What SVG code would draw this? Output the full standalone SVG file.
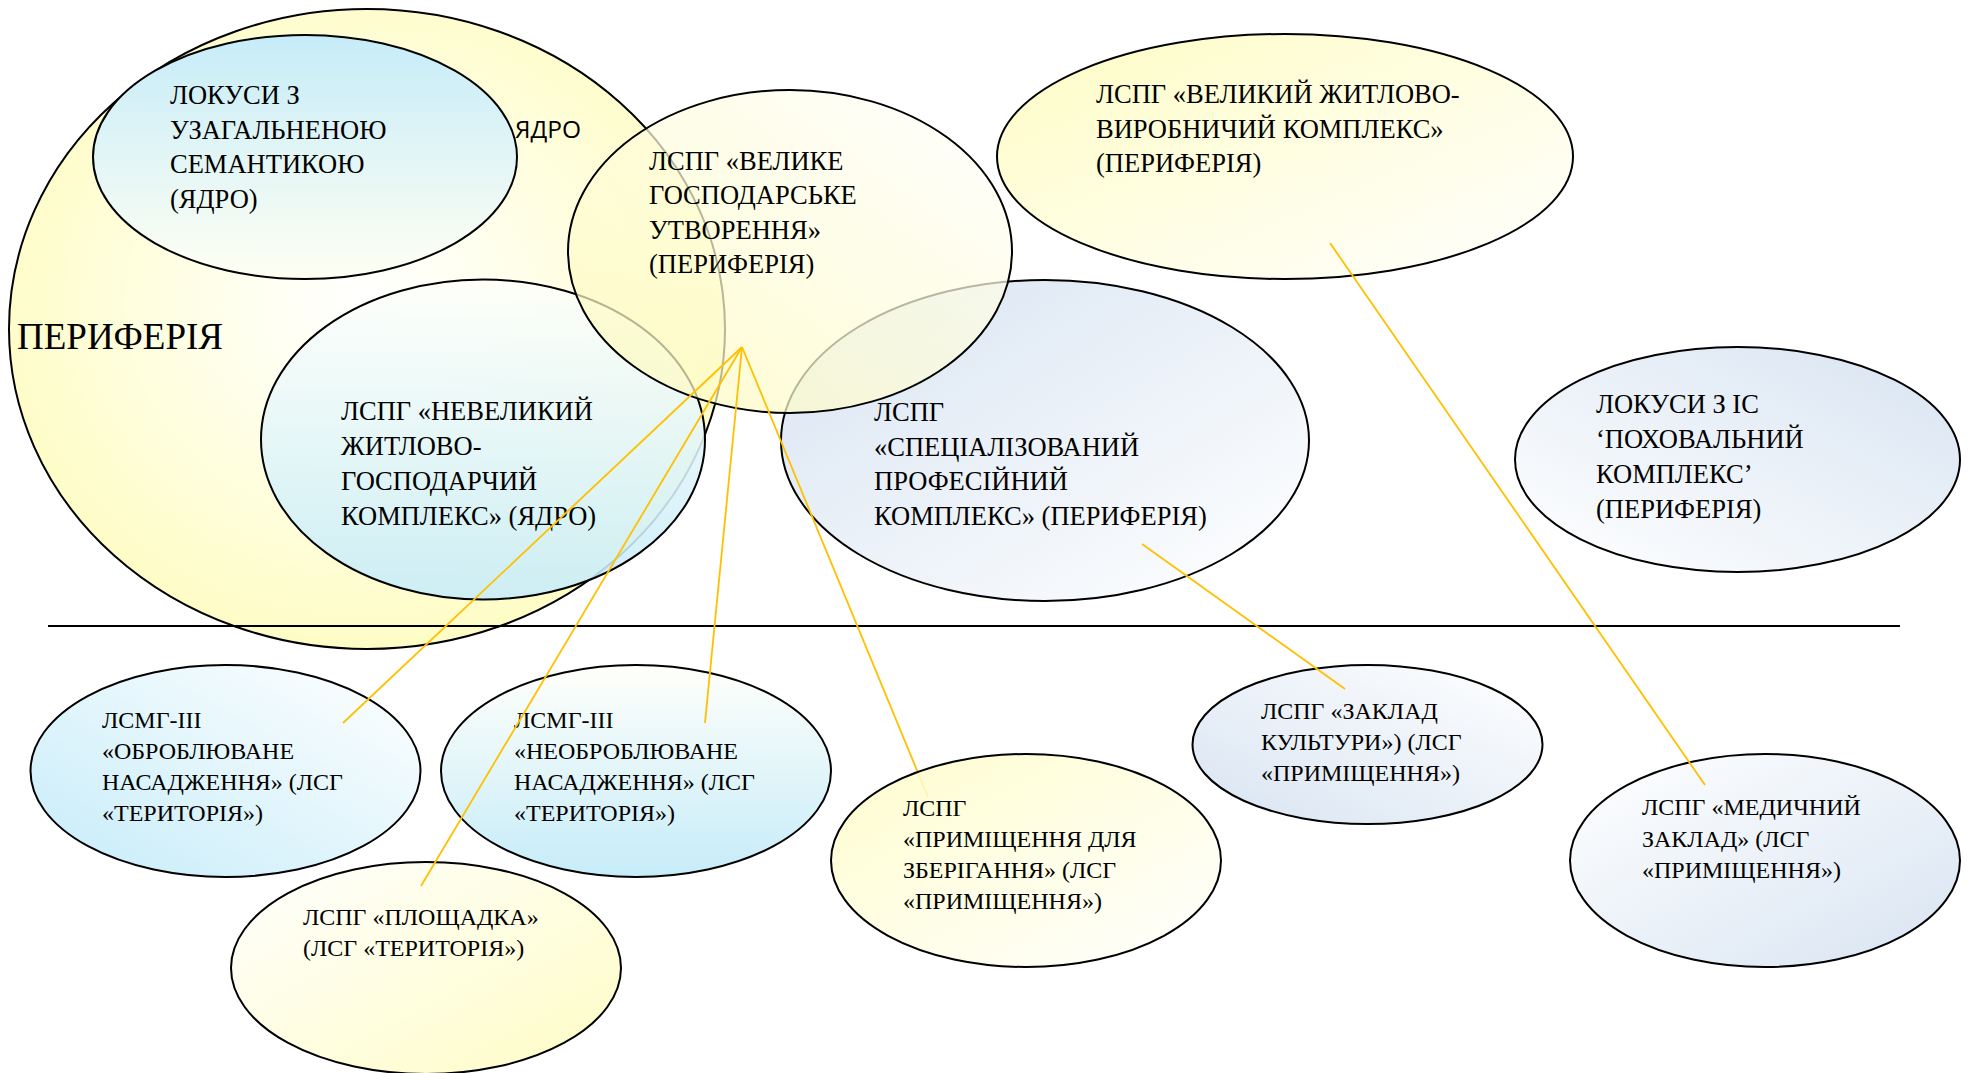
<svg xmlns="http://www.w3.org/2000/svg" width="1970" height="1073" viewBox="0 0 1970 1073">
  <style>
    .shape { stroke: #000; stroke-width: 2; }
    .t { font-family: "Liberation Serif", "Times New Roman", serif; fill: #000; }
    .lg { font-size: 26.5px; }
    .sm { font-size: 24px; }
    .sans { font-family: "Open Sans", "Liberation Sans", Arial, sans-serif; font-size: 24.5px; fill: #000; }
    .conn line { stroke: #FFC000; stroke-width: 1.8; fill: none; }
  </style>
  <defs>
    <radialGradient id="gPeriphery" cx="0.5" cy="0.46" r="0.55">
      <stop offset="0" stop-color="#FFFFFF"/>
      <stop offset="0.3" stop-color="#FFFFF0"/>
      <stop offset="1" stop-color="#FEFCC4"/>
    </radialGradient>
    <!-- blue top, pale bottom -->
    <linearGradient id="gBlueDown" x1="0" y1="0" x2="0" y2="1">
      <stop offset="0" stop-color="#C6ECF9"/>
      <stop offset="1" stop-color="#FFFFF2"/>
    </linearGradient>
    <!-- pale top, blue bottom -->
    <linearGradient id="gBlueUp" x1="0" y1="0" x2="0" y2="1">
      <stop offset="0" stop-color="#FFFFFA"/>
      <stop offset="1" stop-color="#C6ECF9"/>
    </linearGradient>
    <!-- blue bottom-left, white top-right -->
    <linearGradient id="gBlueBL" x1="0" y1="1" x2="1" y2="0">
      <stop offset="0" stop-color="#C6ECF9"/>
      <stop offset="1" stop-color="#FFFFFF"/>
    </linearGradient>
    <!-- yellow bottom-left, white top-right -->
    <linearGradient id="gYellowBL" x1="0" y1="1" x2="1" y2="0">
      <stop offset="0" stop-color="#FDFAB8"/>
      <stop offset="1" stop-color="#FFFFFF"/>
    </linearGradient>
    <!-- yellow top-left, white bottom-right -->
    <linearGradient id="gYellowTL" x1="0" y1="0" x2="1" y2="1">
      <stop offset="0" stop-color="#FEFCC4"/>
      <stop offset="1" stop-color="#FFFFFF"/>
    </linearGradient>
    <!-- white top-left, yellow bottom-right -->
    <linearGradient id="gYellowBR" x1="0" y1="0" x2="1" y2="1">
      <stop offset="0" stop-color="#FFFFFF"/>
      <stop offset="1" stop-color="#FEFCC4"/>
    </linearGradient>
    <!-- grey-blue top-left, white bottom-right -->
    <linearGradient id="gSteelTL" x1="0" y1="0" x2="1" y2="1">
      <stop offset="0" stop-color="#D8E4F2"/>
      <stop offset="1" stop-color="#FFFFFF"/>
    </linearGradient>
    <!-- grey-blue top-right, white bottom-left -->
    <linearGradient id="gSteelTR" x1="1" y1="0" x2="0" y2="1">
      <stop offset="0" stop-color="#D8E4F2"/>
      <stop offset="1" stop-color="#FFFFFF"/>
    </linearGradient>
    <!-- grey-blue bottom-left, white top-right -->
    <linearGradient id="gSteelBL" x1="0" y1="1" x2="1" y2="0">
      <stop offset="0" stop-color="#D8E4F2"/>
      <stop offset="1" stop-color="#FFFFFF"/>
    </linearGradient>
    <!-- white top-left, grey-blue bottom-right -->
    <linearGradient id="gSteelBR" x1="0" y1="0" x2="1" y2="1">
      <stop offset="0" stop-color="#FFFFFF"/>
      <stop offset="1" stop-color="#D8E4F2"/>
    </linearGradient>
  </defs>

  <rect width="1970" height="1073" fill="#FFFFFF"/>

  <!-- outer periphery field -->
  <g id="periphery">
    <ellipse class="shape" cx="367" cy="329" rx="358" ry="320" fill="url(#gPeriphery)"/>
    <text class="t" x="17" y="349" font-size="37">ПЕРИФЕРІЯ</text>
    <text class="sans" x="515" y="138">ЯДРО</text>
  </g>

  <g id="loci-general">
    <ellipse class="shape" cx="305" cy="157" rx="212" ry="122" fill="url(#gBlueDown)"/>
    <text class="t lg"><tspan x="170" y="104">ЛОКУСИ З</tspan><tspan x="170" y="138.5">УЗАГАЛЬНЕНОЮ</tspan><tspan x="170" y="173">СЕМАНТИКОЮ</tspan><tspan x="170" y="207.5">(ЯДРО)</tspan></text>
  </g>

  <g id="small-household">
    <ellipse class="shape" cx="483" cy="439.5" rx="222" ry="160" fill="url(#gBlueUp)" fill-opacity="0.88"/>
    <text class="t lg"><tspan x="341" y="420">ЛСПГ «НЕВЕЛИКИЙ</tspan><tspan x="341" y="455">ЖИТЛОВО-</tspan><tspan x="341" y="490">ГОСПОДАРЧИЙ</tspan><tspan x="341" y="525">КОМПЛЕКС» (ЯДРО)</tspan></text>
  </g>

  <g id="specialized">
    <ellipse class="shape" cx="1045" cy="440.5" rx="264" ry="160.5" fill="url(#gSteelTL)"/>
    <text class="t lg"><tspan x="874" y="421">ЛСПГ</tspan><tspan x="874" y="455.5">«СПЕЦІАЛІЗОВАНИЙ</tspan><tspan x="874" y="490">ПРОФЕСІЙНИЙ</tspan><tspan x="874" y="525">КОМПЛЕКС» (ПЕРИФЕРІЯ)</tspan></text>
  </g>

  <g id="large-economic">
    <ellipse class="shape" cx="790" cy="251.5" rx="222" ry="161.5" fill="url(#gYellowBL)" fill-opacity="0.72"/>
    <text class="t lg"><tspan x="649" y="169.5">ЛСПГ «ВЕЛИКЕ</tspan><tspan x="649" y="204">ГОСПОДАРСЬКЕ</tspan><tspan x="649" y="238.5">УТВОРЕННЯ»</tspan><tspan x="649" y="273">(ПЕРИФЕРІЯ)</tspan></text>
  </g>

  <g id="large-residential">
    <ellipse class="shape" cx="1285" cy="156.5" rx="288" ry="122.5" fill="url(#gYellowTL)"/>
    <text class="t lg"><tspan x="1096" y="103">ЛСПГ «ВЕЛИКИЙ ЖИТЛОВО-</tspan><tspan x="1096" y="137.5">ВИРОБНИЧИЙ КОМПЛЕКС»</tspan><tspan x="1096" y="172">(ПЕРИФЕРІЯ)</tspan></text>
  </g>

  <g id="burial">
    <ellipse class="shape" cx="1737.5" cy="459.5" rx="222.5" ry="112.5" fill="url(#gSteelTR)"/>
    <text class="t lg"><tspan x="1596" y="413">ЛОКУСИ З ІС</tspan><tspan x="1596" y="448">‘ПОХОВАЛЬНИЙ</tspan><tspan x="1596" y="483">КОМПЛЕКС’</tspan><tspan x="1596" y="517.5">(ПЕРИФЕРІЯ)</tspan></text>
  </g>

  <!-- dividing rule -->
  <line id="divider" x1="48" y1="626" x2="1900" y2="626" stroke="#000" stroke-width="2.2"/>

  <g id="cultivated">
    <ellipse class="shape" cx="225.5" cy="771" rx="195" ry="106" fill="url(#gBlueBL)"/>
    <text class="t sm"><tspan x="102" y="728">ЛСМГ-ІІІ</tspan><tspan x="102" y="759">«ОБРОБЛЮВАНЕ</tspan><tspan x="102" y="790">НАСАДЖЕННЯ» (ЛСГ</tspan><tspan x="102" y="821">«ТЕРИТОРІЯ»)</tspan></text>
  </g>

  <g id="uncultivated">
    <ellipse class="shape" cx="636" cy="771" rx="195" ry="106" fill="url(#gBlueUp)"/>
    <text class="t sm"><tspan x="514" y="728">ЛСМГ-ІІІ</tspan><tspan x="514" y="759">«НЕОБРОБЛЮВАНЕ</tspan><tspan x="514" y="790">НАСАДЖЕННЯ» (ЛСГ</tspan><tspan x="514" y="821">«ТЕРИТОРІЯ»)</tspan></text>
  </g>

  <g id="site">
    <ellipse class="shape" cx="426" cy="968" rx="195" ry="106" fill="url(#gYellowBR)"/>
    <text class="t sm"><tspan x="303" y="925">ЛСПГ «ПЛОЩАДКА»</tspan><tspan x="303" y="956">(ЛСГ «ТЕРИТОРІЯ»)</tspan></text>
  </g>

  <g id="culture">
    <ellipse class="shape" cx="1367.5" cy="744.5" rx="175" ry="79.5" fill="url(#gSteelBL)"/>
    <text class="t sm"><tspan x="1261" y="719">ЛСПГ «ЗАКЛАД</tspan><tspan x="1261" y="750">КУЛЬТУРИ») (ЛСГ</tspan><tspan x="1261" y="781">«ПРИМІЩЕННЯ»)</tspan></text>
  </g>

  <g id="medical">
    <ellipse class="shape" cx="1765" cy="860.5" rx="195" ry="106.5" fill="url(#gSteelBR)"/>
    <text class="t sm"><tspan x="1642" y="815">ЛСПГ «МЕДИЧНИЙ</tspan><tspan x="1642" y="846.5">ЗАКЛАД» (ЛСГ</tspan><tspan x="1642" y="878">«ПРИМІЩЕННЯ»)</tspan></text>
  </g>

  <!-- links between the upper and lower loci -->
  <g id="connectors" class="conn">
    <line x1="742" y1="347" x2="343" y2="723"/>
    <line x1="742" y1="347" x2="421" y2="886"/>
    <line x1="742" y1="347" x2="705" y2="723"/>
    <line x1="742" y1="347" x2="928" y2="797"/>
    <line x1="1142" y1="544" x2="1345" y2="689"/>
    <line x1="1330" y1="243" x2="1705" y2="785"/>
  </g>

  <!-- storage room sits over its link, so the link shows faintly through it -->
  <g id="storage">
    <ellipse class="shape" cx="1026" cy="860.5" rx="195" ry="106.5" fill="url(#gYellowTL)" fill-opacity="0.85"/>
    <text class="t sm"><tspan x="903" y="816">ЛСПГ</tspan><tspan x="903" y="847">«ПРИМІЩЕННЯ ДЛЯ</tspan><tspan x="903" y="878">ЗБЕРІГАННЯ» (ЛСГ</tspan><tspan x="903" y="909">«ПРИМІЩЕННЯ»)</tspan></text>
  </g>
</svg>
